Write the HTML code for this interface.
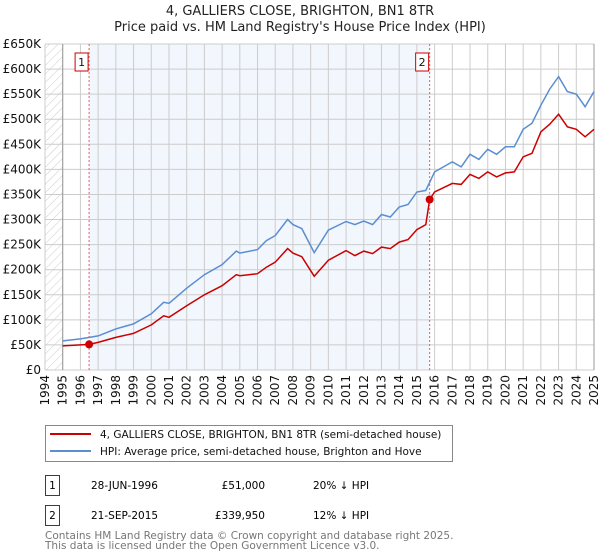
<!DOCTYPE html>
<html><head><meta charset="utf-8">
<style>
body{margin:0;background:#fff;font-family:"Liberation Sans","DejaVu Sans",sans-serif;}
#wrap{position:relative;width:600px;height:560px;overflow:hidden}
svg text{font-family:"DejaVu Sans","Liberation Sans",sans-serif}
</style></head><body>
<div id="wrap">
<svg id="chart" width="600" height="560" xmlns="http://www.w3.org/2000/svg">
<defs><pattern id="hatch" width="6" height="6" patternUnits="userSpaceOnUse" patternTransform="rotate(45)"><line x1="0" y1="0" x2="0" y2="6" stroke="#ccc" stroke-width="1"/></pattern></defs>
<text x="300" y="15" text-anchor="middle" font-size="13" fill="#222">4, GALLIERS CLOSE, BRIGHTON, BN1 8TR</text>
<text x="300" y="31" text-anchor="middle" font-size="13" fill="#222">Price paid vs. HM Land Registry's House Price Index (HPI)</text>
<g id="plot"></g>
<rect x="45.5" y="425.5" width="407" height="36" fill="#fff" stroke="#888"/>
<line x1="50" y1="434" x2="91" y2="434" stroke="#cc0000" stroke-width="2"/>
<text x="100" y="438" font-size="10.5" fill="#111">4, GALLIERS CLOSE, BRIGHTON, BN1 8TR (semi-detached house)</text>
<line x1="50" y1="451" x2="91" y2="451" stroke="#5b8dd1" stroke-width="2"/>
<text x="100" y="455" font-size="10.5" fill="#111">HPI: Average price, semi-detached house, Brighton and Hove</text>
<g>
<rect x="45.5" y="475.5" width="14" height="20" fill="#fff" stroke="#cc0000"/>
<text x="52.5" y="489" text-anchor="middle" font-size="10.5">1</text>
<text x="91" y="489" font-size="10.5">28-JUN-1996</text>
<text x="265" y="489" text-anchor="end" font-size="10.5">£51,000</text>
<text x="313" y="489" font-size="10.5">20% ↓ HPI</text></g>
<g>
<rect x="45.5" y="505.5" width="14" height="20" fill="#fff" stroke="#cc0000"/>
<text x="52.5" y="519" text-anchor="middle" font-size="10.5">2</text>
<text x="91" y="519" font-size="10.5">21-SEP-2015</text>
<text x="265" y="519" text-anchor="end" font-size="10.5">£339,950</text>
<text x="313" y="519" font-size="10.5">12% ↓ HPI</text></g>
<text x="45" y="539" font-size="10.5" fill="#777">Contains HM Land Registry data © Crown copyright and database right 2025.</text>
<text x="45" y="549" font-size="10.5" fill="#777">This data is licensed under the Open Government Licence v3.0.</text>
</svg></div>
<script>
const hpiYears=[1995,1996,1997,1998,1999,2000,2000.7,2001,2002,2003,2004,2004.8,2005,2006,2006.5,2007,2007.7,2008,2008.5,2009.2,2010,2011,2011.5,2012,2012.5,2013,2013.5,2014,2014.5,2015,2015.5,2016,2017,2017.5,2018,2018.5,2019,2019.5,2020,2020.5,2021,2021.5,2022,2022.5,2023,2023.5,2024,2024.5,2025];
const hpiValues=[58,62,68,82,92,112,135,133,163,190,210,237,233,240,258,268,300,290,282,234,279,296,290,297,290,310,305,325,330,355,358,395,415,405,430,420,440,430,445,445,480,492,528,560,585,555,550,525,555];
const propYears=[1995,1996,1996.49,1997,1998,1999,2000,2000.7,2001,2002,2003,2004,2004.8,2005,2006,2006.5,2007,2007.7,2008,2008.5,2009.2,2010,2011,2011.5,2012,2012.5,2013,2013.5,2014,2014.5,2015,2015.5,2015.72,2016,2017,2017.5,2018,2018.5,2019,2019.5,2020,2020.5,2021,2021.5,2022,2022.5,2023,2023.5,2024,2024.5,2025];
const propValues=[48,50,51,55,65,73,90,108,105,128,150,168,190,188,192,205,215,242,233,226,187,219,238,228,237,232,245,242,255,260,280,290,340,355,372,370,390,382,395,385,393,395,425,432,475,490,510,485,480,465,480];
const saleYears=[1996.49,2015.72];
const saleValues=[51,339.95];
const saleLabels=["1","2"];
const yTicks=[0,50,100,150,200,250,300,350,400,450,500,550,600,650];
const xTicks=[1994,1995,1996,1997,1998,1999,2000,2001,2002,2003,2004,2005,2006,2007,2008,2009,2010,2011,2012,2013,2014,2015,2016,2017,2018,2019,2020,2021,2022,2023,2024,2025];

const X0=45,X1=594,Y0=370,Y1=44;
const xs=y=>X0+(y-1994)/31*(X1-X0);
const ys=v=>Y0-v/650*(Y0-Y1);
const NS="http://www.w3.org/2000/svg";
const g=document.getElementById('plot');
function mk(t,a){const e=document.createElementNS(NS,t);for(const k in a)e.setAttribute(k,a[k]);g.appendChild(e);return e;}
let e;
e=mk('rect',{x:X0,y:Y1,width:X1-X0,height:Y0-Y1,fill:'#fff'});
e=mk('rect',{x:xs(saleYears[0]),y:Y1,width:xs(saleYears[1])-xs(saleYears[0]),height:Y0-Y1,fill:'#eef3fc',opacity:0.75});


e=mk('rect',{x:X0,y:Y1,width:xs(1995)-X0,height:Y0-Y1,fill:'url(#hatch)'});


yTicks.forEach(v=>{
 mk('line',{x1:X0,x2:X1,y1:ys(v),y2:ys(v),stroke:'#ccc','stroke-width':1});
 const t=mk('text',{x:X0-4,y:ys(v)+4,'text-anchor':'end','font-size':12,fill:'#111'});
 t.textContent=v===0?'£0':'£'+v+'K';
 
 
});
xTicks.forEach(yr=>{
 mk('line',{x1:xs(yr),x2:xs(yr),y1:Y1,y2:Y0,stroke:'#ccc','stroke-width':1});
 const t=mk('text',{transform:`translate(${xs(yr)+4},${Y0+5}) rotate(-90)`,'text-anchor':'end','font-size':12,fill:'#111'});
 t.textContent=yr;
 
 
});
mk('line',{x1:xs(1995),x2:xs(1995),y1:Y1,y2:Y0,stroke:'#999'});
mk('line',{x1:X1,x2:X1,y1:Y1,y2:Y0,stroke:'#999'});
const pts=(xa,va)=>xa.map((x,i)=>xs(x).toFixed(1)+','+ys(va[i]).toFixed(1)).join(' ');
e=mk('polyline',{points:pts(hpiYears,hpiValues),fill:'none',stroke:'#5b8dd1','stroke-width':1.5});


e=mk('polyline',{points:pts(propYears,propValues),fill:'none',stroke:'#cc0000','stroke-width':1.5});


saleYears.forEach((yr,i)=>{
 const l=mk('line',{x1:xs(yr),x2:xs(yr),y1:Y1,y2:Y0,stroke:'#e06060','stroke-dasharray':'2,2'});
 
 
 const c=mk('circle',{cx:xs(yr),cy:ys(saleValues[i]),r:4,fill:'#cc0000'});
 
 
 const b=mk('rect',{x:xs(yr)-14,y:53,width:13,height:18,fill:'#fff',stroke:'#cc0000'});
 
 
 const t=mk('text',{x:xs(yr)-7.5,y:66,'text-anchor':'middle','font-size':11,fill:'#111'});
 t.textContent=saleLabels[i];
 
 
});
</script>
</body></html>
